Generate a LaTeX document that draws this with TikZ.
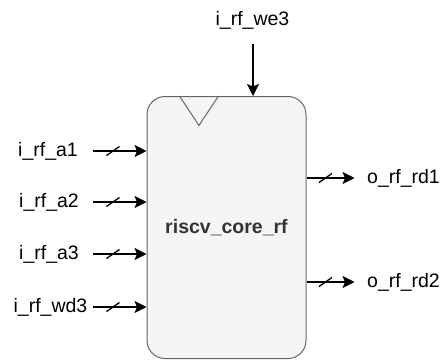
\documentclass[tikz,border=0pt]{standalone}
\usepackage{fontspec}
\setmainfont{Liberation Sans}
\usetikzlibrary{arrows.meta,calc}

\definecolor{blockfill}{HTML}{F5F5F5}
\definecolor{blockline}{HTML}{666666}
\definecolor{blocktext}{HTML}{333333}

\tikzset{
  block/.style={draw=blockline, fill=blockfill, line width=1pt,
    rounded corners=18pt, minimum width=159pt, minimum height=262pt,
    inner sep=0pt, text=blocktext, font=\fontsize{19.5}{22}\selectfont\bfseries},
  portlabel/.style={inner sep=0pt, font=\fontsize{19.5}{22}\selectfont},
  sig/.style={line width=1.5pt, -{Stealth[length=12pt,width=12pt,inset=2.5pt]}},
  busmark/.pic={\draw[line width=1.3pt] (-6.5,4.5) -- (6.5,-4.5);}
}

\begin{document}
\begin{tikzpicture}[x=1pt, y=-1pt]
  \useasboundingbox (0,0) rectangle (442,360);

  % register file block
  \node[block] (box) at (226.5,227.5) {riscv\_core\_rf};
  % clock marker on the top edge
  \draw[blockline, line width=1pt]
    ($(box.north west)+(33,0)$) -- ($(box.north west)+(52.5,29.5)$)
    -- ($(box.north west)+(72,0)$);

  % write enable
  \node[portlabel] (we3) at (252.5,20) {i\_rf\_we3};
  \coordinate (we3s) at (253,44);
  \draw[sig] (we3s) -- (we3s |- box.north);

  % inputs
  \node[portlabel] (a1)  at (48,151)   {i\_rf\_a1};
  \node[portlabel] (a2)  at (49,202)   {i\_rf\_a2};
  \node[portlabel] (a3)  at (49,254)   {i\_rf\_a3};
  \node[portlabel] (wd3) at (50.5,307) {i\_rf\_wd3};
  \foreach \p in {a1,a2,a3,wd3}{
    \coordinate (\p s) at (93,0 |- \p);
    \draw[sig] (\p s) -- (\p s -| box.west);
    \pic at ($(\p s)+(20,0)$) {busmark};
  }

  % outputs
  \node[portlabel, anchor=west] (rd1) at (367,178) {o\_rf\_rd1};
  \node[portlabel, anchor=west] (rd2) at (367,282) {o\_rf\_rd2};
  \foreach \p in {rd1,rd2}{
    \coordinate (\p s) at (box.east |- \p);
    \draw[sig] (\p s) -- ($(\p s)+(48,0)$);
    \pic at ($(\p s)+(19,0)$) {busmark};
  }
\end{tikzpicture}
\end{document}
